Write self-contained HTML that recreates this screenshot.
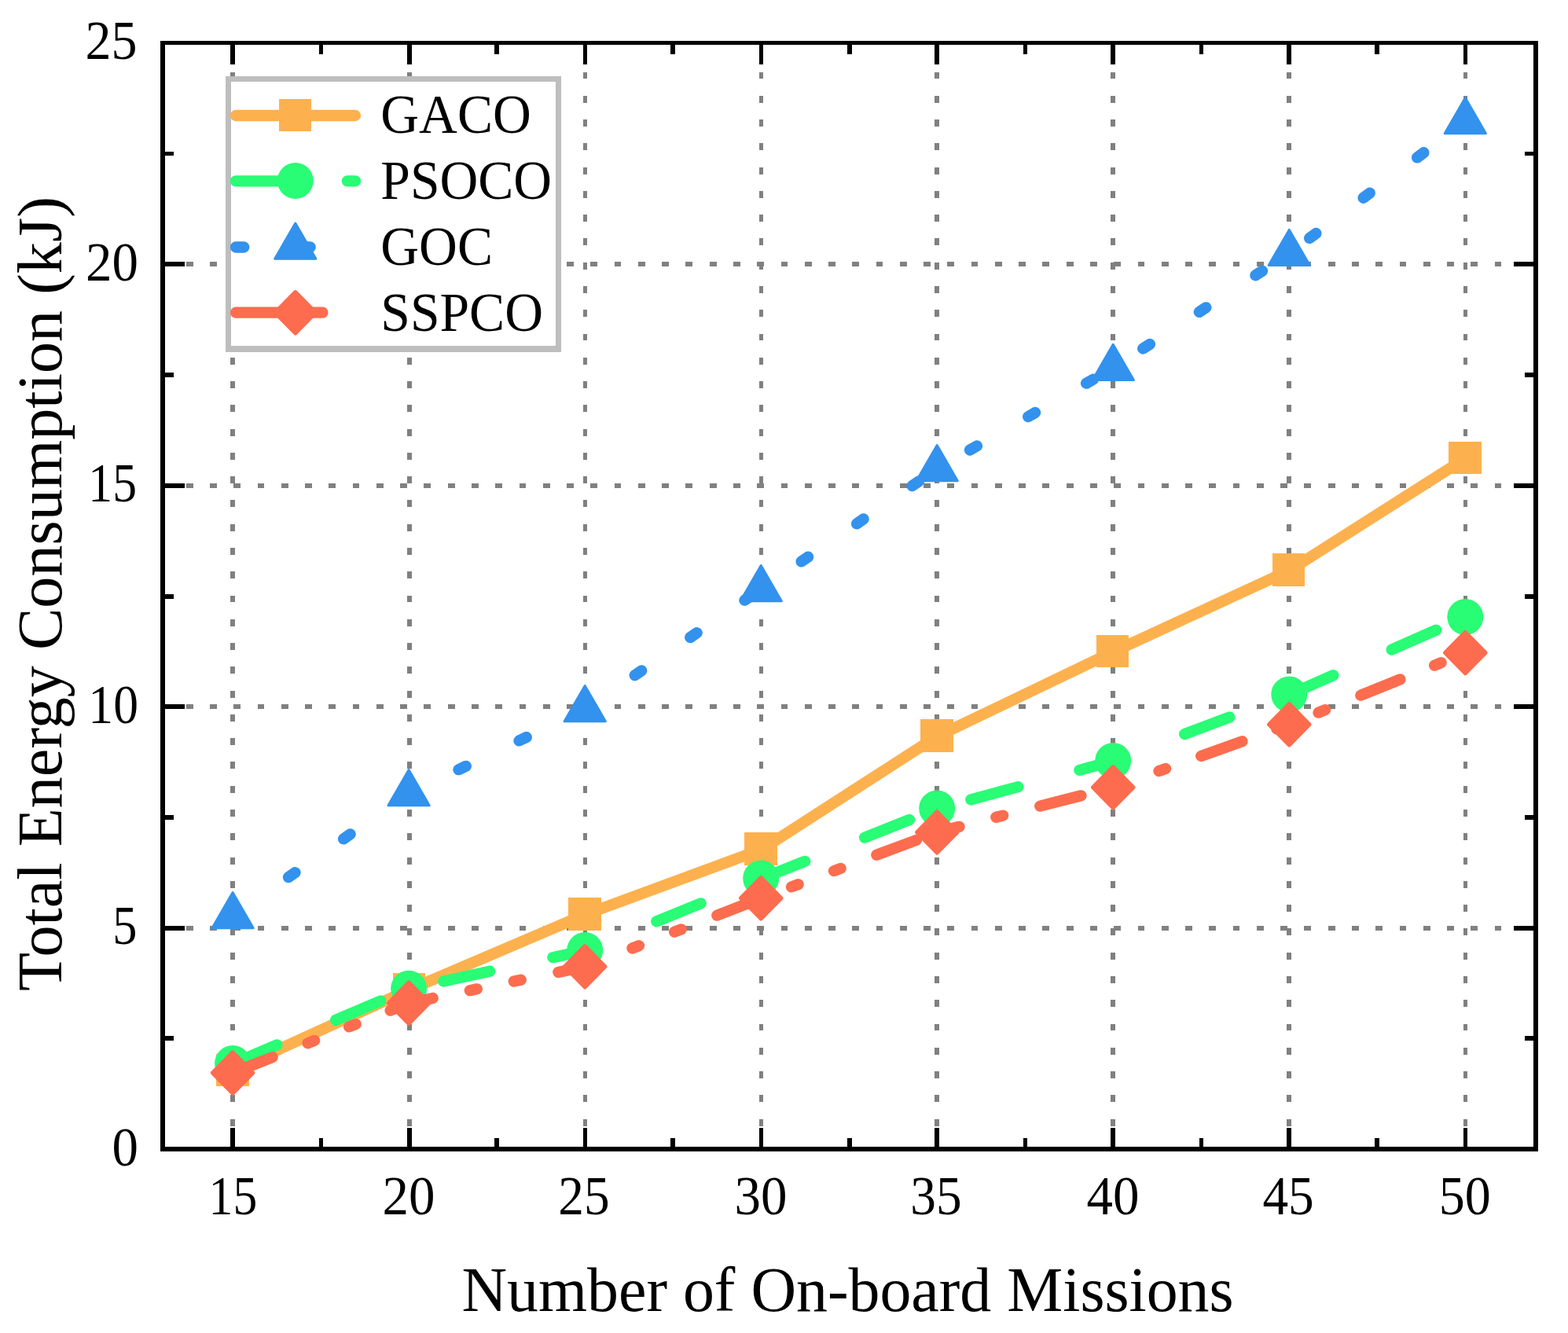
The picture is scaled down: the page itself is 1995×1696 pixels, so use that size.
<!DOCTYPE html>
<html lang="en"><head><meta charset="utf-8"><title>Total Energy Consumption vs Number of On-board Missions</title>
<style>html,body{margin:0;padding:0;background:#fff}body{width:1995px;height:1696px;overflow:hidden}svg{display:block}text{font-family:"Liberation Serif","Times New Roman",Times,serif;fill:#000}</style>
</head><body>
<svg width="1995" height="1696" viewBox="0 0 1995 1696" shape-rendering="crispEdges" role="img" aria-label="Total energy consumption versus number of on-board missions for GACO, PSOCO, GOC and SSPCO">
<rect x="0" y="0" width="1995" height="1696" fill="#fff"/>
<g id="grid" stroke="#808080" fill="none">
<path d="M296 1454v9M296 1424v9M296 1393v9M296 1363v9M296 1333v9M296 1303v8M296 1272v9M296 1242v9M296 1212v9M296 1181v9M296 1151v9M296 1121v9M296 1091v9M296 1060v9M296 1030v9M296 1000v9M296 969v9M296 939v9M296 909v9M296 879v9M296 848v9M296 818v9M296 788v9M296 758v8M296 727v9M296 697v9M296 667v9M296 636v9M296 606v9M296 576v9M296 546v9M296 515v9M296 485v9M296 455v9M296 425v8M296 394v9M296 364v9M296 334v9M296 303v9M296 273v9M296 243v9M296 213v9M296 182v9M296 152v9M296 122v9M296 92v8M296 61v9" stroke-width="6"/>
<path d="M521 1454v9M521 1424v9M521 1393v9M521 1363v9M521 1333v9M521 1303v8M521 1272v9M521 1242v9M521 1212v9M521 1181v9M521 1151v9M521 1121v9M521 1091v9M521 1060v9M521 1030v9M521 1000v9M521 969v9M521 939v9M521 909v9M521 879v9M521 848v9M521 818v9M521 788v9M521 758v8M521 727v9M521 697v9M521 667v9M521 636v9M521 606v9M521 576v9M521 546v9M521 515v9M521 485v9M521 455v9M521 425v8M521 394v9M521 364v9M521 334v9M521 303v9M521 273v9M521 243v9M521 213v9M521 182v9M521 152v9M521 122v9M521 92v8M521 61v9" stroke-width="6"/>
<path d="M744.5 1454v9M744.5 1424v9M744.5 1393v9M744.5 1363v9M744.5 1333v9M744.5 1303v8M744.5 1272v9M744.5 1242v9M744.5 1212v9M744.5 1181v9M744.5 1151v9M744.5 1121v9M744.5 1091v9M744.5 1060v9M744.5 1030v9M744.5 1000v9M744.5 969v9M744.5 939v9M744.5 909v9M744.5 879v9M744.5 848v9M744.5 818v9M744.5 788v9M744.5 758v8M744.5 727v9M744.5 697v9M744.5 667v9M744.5 636v9M744.5 606v9M744.5 576v9M744.5 546v9M744.5 515v9M744.5 485v9M744.5 455v9M744.5 425v8M744.5 394v9M744.5 364v9M744.5 334v9M744.5 303v9M744.5 273v9M744.5 243v9M744.5 213v9M744.5 182v9M744.5 152v9M744.5 122v9M744.5 92v8M744.5 61v9" stroke-width="5"/>
<path d="M968.5 1454v9M968.5 1424v9M968.5 1393v9M968.5 1363v9M968.5 1333v9M968.5 1303v8M968.5 1272v9M968.5 1242v9M968.5 1212v9M968.5 1181v9M968.5 1151v9M968.5 1121v9M968.5 1091v9M968.5 1060v9M968.5 1030v9M968.5 1000v9M968.5 969v9M968.5 939v9M968.5 909v9M968.5 879v9M968.5 848v9M968.5 818v9M968.5 788v9M968.5 758v8M968.5 727v9M968.5 697v9M968.5 667v9M968.5 636v9M968.5 606v9M968.5 576v9M968.5 546v9M968.5 515v9M968.5 485v9M968.5 455v9M968.5 425v8M968.5 394v9M968.5 364v9M968.5 334v9M968.5 303v9M968.5 273v9M968.5 243v9M968.5 213v9M968.5 182v9M968.5 152v9M968.5 122v9M968.5 92v8M968.5 61v9" stroke-width="5"/>
<path d="M1192 1454v9M1192 1424v9M1192 1393v9M1192 1363v9M1192 1333v9M1192 1303v8M1192 1272v9M1192 1242v9M1192 1212v9M1192 1181v9M1192 1151v9M1192 1121v9M1192 1091v9M1192 1060v9M1192 1030v9M1192 1000v9M1192 969v9M1192 939v9M1192 909v9M1192 879v9M1192 848v9M1192 818v9M1192 788v9M1192 758v8M1192 727v9M1192 697v9M1192 667v9M1192 636v9M1192 606v9M1192 576v9M1192 546v9M1192 515v9M1192 485v9M1192 455v9M1192 425v8M1192 394v9M1192 364v9M1192 334v9M1192 303v9M1192 273v9M1192 243v9M1192 213v9M1192 182v9M1192 152v9M1192 122v9M1192 92v8M1192 61v9" stroke-width="6"/>
<path d="M1416 1454v9M1416 1424v9M1416 1393v9M1416 1363v9M1416 1333v9M1416 1303v8M1416 1272v9M1416 1242v9M1416 1212v9M1416 1181v9M1416 1151v9M1416 1121v9M1416 1091v9M1416 1060v9M1416 1030v9M1416 1000v9M1416 969v9M1416 939v9M1416 909v9M1416 879v9M1416 848v9M1416 818v9M1416 788v9M1416 758v8M1416 727v9M1416 697v9M1416 667v9M1416 636v9M1416 606v9M1416 576v9M1416 546v9M1416 515v9M1416 485v9M1416 455v9M1416 425v8M1416 394v9M1416 364v9M1416 334v9M1416 303v9M1416 273v9M1416 243v9M1416 213v9M1416 182v9M1416 152v9M1416 122v9M1416 92v8M1416 61v9" stroke-width="6"/>
<path d="M1640 1454v9M1640 1424v9M1640 1393v9M1640 1363v9M1640 1333v9M1640 1303v8M1640 1272v9M1640 1242v9M1640 1212v9M1640 1181v9M1640 1151v9M1640 1121v9M1640 1091v9M1640 1060v9M1640 1030v9M1640 1000v9M1640 969v9M1640 939v9M1640 909v9M1640 879v9M1640 848v9M1640 818v9M1640 788v9M1640 758v8M1640 727v9M1640 697v9M1640 667v9M1640 636v9M1640 606v9M1640 576v9M1640 546v9M1640 515v9M1640 485v9M1640 455v9M1640 425v8M1640 394v9M1640 364v9M1640 334v9M1640 303v9M1640 273v9M1640 243v9M1640 213v9M1640 182v9M1640 152v9M1640 122v9M1640 92v8M1640 61v9" stroke-width="6"/>
<path d="M1864.5 1454v9M1864.5 1424v9M1864.5 1393v9M1864.5 1363v9M1864.5 1333v9M1864.5 1303v8M1864.5 1272v9M1864.5 1242v9M1864.5 1212v9M1864.5 1181v9M1864.5 1151v9M1864.5 1121v9M1864.5 1091v9M1864.5 1060v9M1864.5 1030v9M1864.5 1000v9M1864.5 969v9M1864.5 939v9M1864.5 909v9M1864.5 879v9M1864.5 848v9M1864.5 818v9M1864.5 788v9M1864.5 758v8M1864.5 727v9M1864.5 697v9M1864.5 667v9M1864.5 636v9M1864.5 606v9M1864.5 576v9M1864.5 546v9M1864.5 515v9M1864.5 485v9M1864.5 455v9M1864.5 425v8M1864.5 394v9M1864.5 364v9M1864.5 334v9M1864.5 303v9M1864.5 273v9M1864.5 243v9M1864.5 213v9M1864.5 182v9M1864.5 152v9M1864.5 122v9M1864.5 92v8M1864.5 61v9" stroke-width="5"/>
<path d="M207 1181h8M237 1181h9M267 1181h9M297 1181h9M328 1181h8M358 1181h9M388 1181h9M418 1181h9M449 1181h8M479 1181h9M509 1181h9M539 1181h9M570 1181h9M600 1181h9M630 1181h9M661 1181h8M691 1181h9M721 1181h9M751 1181h9M782 1181h8M812 1181h9M842 1181h9M872 1181h9M903 1181h9M933 1181h9M963 1181h9M994 1181h8M1024 1181h9M1054 1181h9M1084 1181h9M1115 1181h8M1145 1181h9M1175 1181h9M1205 1181h9M1236 1181h8M1266 1181h9M1296 1181h9M1326 1181h9M1357 1181h9M1387 1181h9M1417 1181h9M1448 1181h8M1478 1181h9M1508 1181h9M1538 1181h9M1569 1181h8M1599 1181h9M1629 1181h9M1659 1181h9M1690 1181h9M1720 1181h9M1750 1181h9M1781 1181h8M1811 1181h9M1841 1181h9M1871 1181h9M1902 1181h8M1932 1181h9" stroke-width="6"/>
<path d="M207 899h8M237 899h9M267 899h9M297 899h9M328 899h8M358 899h9M388 899h9M418 899h9M449 899h8M479 899h9M509 899h9M539 899h9M570 899h9M600 899h9M630 899h9M661 899h8M691 899h9M721 899h9M751 899h9M782 899h8M812 899h9M842 899h9M872 899h9M903 899h9M933 899h9M963 899h9M994 899h8M1024 899h9M1054 899h9M1084 899h9M1115 899h8M1145 899h9M1175 899h9M1205 899h9M1236 899h8M1266 899h9M1296 899h9M1326 899h9M1357 899h9M1387 899h9M1417 899h9M1448 899h8M1478 899h9M1508 899h9M1538 899h9M1569 899h8M1599 899h9M1629 899h9M1659 899h9M1690 899h9M1720 899h9M1750 899h9M1781 899h8M1811 899h9M1841 899h9M1871 899h9M1902 899h8M1932 899h9" stroke-width="6"/>
<path d="M207 618h8M237 618h9M267 618h9M297 618h9M328 618h8M358 618h9M388 618h9M418 618h9M449 618h8M479 618h9M509 618h9M539 618h9M570 618h9M600 618h9M630 618h9M661 618h8M691 618h9M721 618h9M751 618h9M782 618h8M812 618h9M842 618h9M872 618h9M903 618h9M933 618h9M963 618h9M994 618h8M1024 618h9M1054 618h9M1084 618h9M1115 618h8M1145 618h9M1175 618h9M1205 618h9M1236 618h8M1266 618h9M1296 618h9M1326 618h9M1357 618h9M1387 618h9M1417 618h9M1448 618h8M1478 618h9M1508 618h9M1538 618h9M1569 618h8M1599 618h9M1629 618h9M1659 618h9M1690 618h9M1720 618h9M1750 618h9M1781 618h8M1811 618h9M1841 618h9M1871 618h9M1902 618h8M1932 618h9" stroke-width="6"/>
<path d="M207 336h8M237 336h9M267 336h9M297 336h9M328 336h8M358 336h9M388 336h9M418 336h9M449 336h8M479 336h9M509 336h9M539 336h9M570 336h9M600 336h9M630 336h9M661 336h8M691 336h9M721 336h9M751 336h9M782 336h8M812 336h9M842 336h9M872 336h9M903 336h9M933 336h9M963 336h9M994 336h8M1024 336h9M1054 336h9M1084 336h9M1115 336h8M1145 336h9M1175 336h9M1205 336h9M1236 336h8M1266 336h9M1296 336h9M1326 336h9M1357 336h9M1387 336h9M1417 336h9M1448 336h8M1478 336h9M1508 336h9M1538 336h9M1569 336h8M1599 336h9M1629 336h9M1659 336h9M1690 336h9M1720 336h9M1750 336h9M1781 336h8M1811 336h9M1841 336h9M1871 336h9M1902 336h8M1932 336h9" stroke-width="6"/>
</g>
<g id="frame" fill="#000">
<rect x="204" y="52" width="1753" height="5"/>
<rect x="204" y="1459" width="1753" height="6"/>
<rect x="204" y="52" width="6" height="1413"/>
<rect x="1951" y="52" width="6" height="1413"/>
<rect x="293" y="57" width="6" height="25"/>
<rect x="293" y="1435" width="6" height="25"/>
<rect x="406" y="57" width="5" height="12"/>
<rect x="406" y="1448" width="5" height="12"/>
<rect x="518" y="57" width="6" height="25"/>
<rect x="518" y="1435" width="6" height="25"/>
<rect x="629" y="57" width="6" height="12"/>
<rect x="629" y="1448" width="6" height="12"/>
<rect x="742" y="57" width="5" height="25"/>
<rect x="742" y="1435" width="5" height="25"/>
<rect x="853" y="57" width="6" height="12"/>
<rect x="853" y="1448" width="6" height="12"/>
<rect x="966" y="57" width="5" height="25"/>
<rect x="966" y="1435" width="5" height="25"/>
<rect x="1078" y="57" width="6" height="12"/>
<rect x="1078" y="1448" width="6" height="12"/>
<rect x="1189" y="57" width="6" height="25"/>
<rect x="1189" y="1435" width="6" height="25"/>
<rect x="1302" y="57" width="5" height="12"/>
<rect x="1302" y="1448" width="5" height="12"/>
<rect x="1413" y="57" width="6" height="25"/>
<rect x="1413" y="1435" width="6" height="25"/>
<rect x="1526" y="57" width="5" height="12"/>
<rect x="1526" y="1448" width="5" height="12"/>
<rect x="1637" y="57" width="6" height="25"/>
<rect x="1637" y="1435" width="6" height="25"/>
<rect x="1749" y="57" width="6" height="12"/>
<rect x="1749" y="1448" width="6" height="12"/>
<rect x="1862" y="57" width="5" height="25"/>
<rect x="1862" y="1435" width="5" height="25"/>
<rect x="210" y="193" width="11" height="5"/>
<rect x="1940" y="193" width="11" height="5"/>
<rect x="210" y="333" width="25" height="6"/>
<rect x="1926" y="333" width="25" height="6"/>
<rect x="210" y="474" width="11" height="6"/>
<rect x="1940" y="474" width="11" height="6"/>
<rect x="210" y="615" width="25" height="6"/>
<rect x="1926" y="615" width="25" height="6"/>
<rect x="210" y="756" width="11" height="6"/>
<rect x="1940" y="756" width="11" height="6"/>
<rect x="210" y="896" width="25" height="6"/>
<rect x="1926" y="896" width="25" height="6"/>
<rect x="210" y="1037" width="11" height="6"/>
<rect x="1940" y="1037" width="11" height="6"/>
<rect x="210" y="1178" width="25" height="6"/>
<rect x="1926" y="1178" width="25" height="6"/>
<rect x="210" y="1318" width="11" height="6"/>
<rect x="1940" y="1318" width="11" height="6"/>
</g>
<g id="series-gaco">
<polyline points="296.4,1361.8 520.4,1259.3 744.5,1163.7 968.5,1081.0 1192.5,936.8 1416.5,829.2 1640.6,725.7 1864.6,583.2" fill="none" stroke="#FDB14E" stroke-width="14.3" stroke-linecap="round" stroke-linejoin="round" shape-rendering="geometricPrecision"/>
<rect x="275" y="1341" width="42" height="41" fill="#FDB14E"/>
<rect x="500" y="1238" width="41" height="42" fill="#FDB14E"/>
<rect x="723" y="1142" width="42" height="42" fill="#FDB14E"/>
<rect x="947" y="1059" width="42" height="42" fill="#FDB14E"/>
<rect x="1171" y="915" width="42" height="42" fill="#FDB14E"/>
<rect x="1395" y="808" width="41" height="41" fill="#FDB14E"/>
<rect x="1619" y="704" width="41" height="42" fill="#FDB14E"/>
<rect x="1843" y="562" width="42" height="41" fill="#FDB14E"/>
</g>
<g id="series-psoco">
<path d="M296.4 1353.3 L352.5 1329.4 M427.1 1297.8 L484.2 1273.5 M564.3 1248.5 L623.2 1235.7 M703.4 1218.2 L744.5 1209.3 M744.5 1209.3 L758.8 1203.4 M835.2 1172.3 L891.6 1149.3 M967.1 1118.5 L968.5 1117.9 M968.5 1117.9 L1024.2 1095.8 M1100.1 1065.6 L1157.1 1043.0 M1235.3 1017.3 L1295.3 1001.1 M1373.4 979.9 L1416.5 968.2 M1416.5 968.2 L1430.6 962.9 M1507.2 934.0 L1564.3 912.5 M1640.5 883.7 L1640.6 883.7 M1640.6 883.7 L1696.4 859.1 M1770.7 826.5 L1827.2 801.6" fill="none" stroke="#28FD75" stroke-width="14.3" stroke-linecap="round" stroke-linejoin="round" shape-rendering="geometricPrecision"/>
<circle cx="296.1" cy="1353.0" r="23" fill="#28FD75" shape-rendering="geometricPrecision"/>
<circle cx="520.1" cy="1257.8" r="23" fill="#28FD75" shape-rendering="geometricPrecision"/>
<circle cx="744.2" cy="1209.0" r="23" fill="#28FD75" shape-rendering="geometricPrecision"/>
<circle cx="968.2" cy="1117.6" r="23" fill="#28FD75" shape-rendering="geometricPrecision"/>
<circle cx="1192.2" cy="1028.6" r="23" fill="#28FD75" shape-rendering="geometricPrecision"/>
<circle cx="1416.2" cy="967.9" r="23" fill="#28FD75" shape-rendering="geometricPrecision"/>
<circle cx="1640.3" cy="883.4" r="23" fill="#28FD75" shape-rendering="geometricPrecision"/>
<circle cx="1864.3" cy="784.9" r="23" fill="#28FD75" shape-rendering="geometricPrecision"/>
</g>
<g id="series-goc">
<path d="M367.0 1116.1 L375.5 1110.2 M437.1 1067.3 L445.6 1061.4 M507.2 1018.5 L515.6 1012.6 M583.5 979.2 L592.8 974.8 M660.5 942.4 L669.8 938.0 M737.6 905.6 L744.5 902.3 M807.7 859.1 L816.2 853.3 M878.2 811.0 L886.7 805.2 M947.5 763.6 L956.0 757.8 M1019.6 714.4 L1028.1 708.6 M1090.1 666.3 L1098.6 660.4 M1160.6 618.1 L1169.1 612.3 M1234.0 572.5 L1243.0 567.4 M1308.2 530.1 L1317.1 525.0 M1382.1 487.7 L1391.0 482.6 M1454.2 443.5 L1462.9 437.9 M1525.8 396.9 L1534.4 391.3 M1597.4 350.3 L1606.0 344.7 M1666.1 303.0 L1674.4 296.9 M1734.6 251.8 L1742.8 245.6 M1803.1 200.4 L1811.4 194.2" fill="none" stroke="#3292EE" stroke-width="14.3" stroke-linecap="round" stroke-linejoin="round" shape-rendering="geometricPrecision"/>
<polygon points="296.1,1135.5 322.2,1180.7 270.0,1180.7" fill="#3292EE" stroke="#3292EE" stroke-width="3" stroke-linejoin="round" shape-rendering="geometricPrecision"/>
<polygon points="520.1,979.5 546.2,1024.7 494.0,1024.7" fill="#3292EE" stroke="#3292EE" stroke-width="3" stroke-linejoin="round" shape-rendering="geometricPrecision"/>
<polygon points="744.2,872.5 770.3,917.7 718.1,917.7" fill="#3292EE" stroke="#3292EE" stroke-width="3" stroke-linejoin="round" shape-rendering="geometricPrecision"/>
<polygon points="968.2,719.5 994.3,764.7 942.1,764.7" fill="#3292EE" stroke="#3292EE" stroke-width="3" stroke-linejoin="round" shape-rendering="geometricPrecision"/>
<polygon points="1192.2,566.5 1218.3,611.7 1166.1,611.7" fill="#3292EE" stroke="#3292EE" stroke-width="3" stroke-linejoin="round" shape-rendering="geometricPrecision"/>
<polygon points="1416.2,438.2 1442.4,483.4 1390.1,483.4" fill="#3292EE" stroke="#3292EE" stroke-width="3" stroke-linejoin="round" shape-rendering="geometricPrecision"/>
<polygon points="1640.3,292.4 1666.4,337.6 1614.2,337.6" fill="#3292EE" stroke="#3292EE" stroke-width="3" stroke-linejoin="round" shape-rendering="geometricPrecision"/>
<polygon points="1864.3,124.5 1890.4,169.7 1838.2,169.7" fill="#3292EE" stroke="#3292EE" stroke-width="3" stroke-linejoin="round" shape-rendering="geometricPrecision"/>
</g>
<g id="series-sspco">
<path d="M296.4 1365.0 L346.6 1345.1 M391.5 1327.3 L400.1 1323.9 M444.1 1306.4 L452.7 1303.1 M496.6 1285.6 L520.4 1276.2 M520.4 1276.2 L550.7 1269.9 M597.8 1260.2 L606.8 1258.3 M653.8 1248.6 L662.8 1246.7 M710.3 1236.9 L744.5 1229.8 M744.5 1229.8 L757.5 1224.7 M804.4 1206.5 L813.0 1203.2 M858.1 1185.7 L866.7 1182.3 M912.3 1164.6 L962.6 1145.1 M1007.0 1128.4 L1015.6 1125.2 M1061.0 1108.1 L1069.6 1104.9 M1115.3 1087.8 L1165.9 1068.9 M1211.6 1054.0 L1220.5 1051.8 M1267.3 1039.8 L1276.2 1037.6 M1323.2 1025.6 L1375.5 1012.3 M1421.4 1000.1 L1430.0 997.0 M1474.5 981.1 L1483.1 978.0 M1528.2 961.9 L1580.5 943.2 M1624.4 927.5 L1633.0 924.4 M1677.5 906.7 L1686.1 903.2 M1731.3 884.7 L1781.4 864.4 M1825.1 846.6 L1833.6 843.1" fill="none" stroke="#FD6C4E" stroke-width="14.3" stroke-linecap="round" stroke-linejoin="round" shape-rendering="geometricPrecision"/>
<polygon points="296.1,1338.8 321.9,1365.0 296.1,1391.2 270.3,1365.0" fill="#FD6C4E" stroke="#FD6C4E" stroke-width="5" stroke-linejoin="round" shape-rendering="geometricPrecision"/>
<polygon points="520.1,1250.0 545.9,1276.2 520.1,1302.4 494.4,1276.2" fill="#FD6C4E" stroke="#FD6C4E" stroke-width="5" stroke-linejoin="round" shape-rendering="geometricPrecision"/>
<polygon points="744.2,1203.6 769.9,1229.8 744.2,1256.0 718.4,1229.8" fill="#FD6C4E" stroke="#FD6C4E" stroke-width="5" stroke-linejoin="round" shape-rendering="geometricPrecision"/>
<polygon points="968.2,1116.6 994.0,1142.8 968.2,1169.0 942.4,1142.8" fill="#FD6C4E" stroke="#FD6C4E" stroke-width="5" stroke-linejoin="round" shape-rendering="geometricPrecision"/>
<polygon points="1192.2,1032.7 1218.0,1058.9 1192.2,1085.1 1166.5,1058.9" fill="#FD6C4E" stroke="#FD6C4E" stroke-width="5" stroke-linejoin="round" shape-rendering="geometricPrecision"/>
<polygon points="1416.2,975.6 1442.0,1001.8 1416.2,1028.0 1390.5,1001.8" fill="#FD6C4E" stroke="#FD6C4E" stroke-width="5" stroke-linejoin="round" shape-rendering="geometricPrecision"/>
<polygon points="1640.3,895.5 1666.0,921.7 1640.3,947.9 1614.5,921.7" fill="#FD6C4E" stroke="#FD6C4E" stroke-width="5" stroke-linejoin="round" shape-rendering="geometricPrecision"/>
<polygon points="1864.3,804.3 1890.1,830.5 1864.3,856.7 1838.5,830.5" fill="#FD6C4E" stroke="#FD6C4E" stroke-width="5" stroke-linejoin="round" shape-rendering="geometricPrecision"/>
</g>
<g id="legend">
<rect x="287" y="97" width="427" height="351" fill="#BEBEBE"/>
<rect x="294" y="104" width="413" height="336" fill="#fff"/>
<line x1="300" y1="147" x2="452" y2="147" stroke="#FDB14E" stroke-width="14.3" stroke-linecap="round" shape-rendering="geometricPrecision"/>
<rect x="355" y="126" width="41" height="41" fill="#FDB14E"/>
<text transform="translate(484.3 168.8) scale(1 1.035)" font-size="67.6">GACO</text>
<line x1="300" y1="230.4" x2="452" y2="230.4" stroke="#28FD75" stroke-width="14.3" stroke-linecap="round" shape-rendering="geometricPrecision" stroke-dasharray="62 80"/>
<circle cx="375.8" cy="230.0" r="23" fill="#28FD75" shape-rendering="geometricPrecision"/>
<text transform="translate(484.3 252.9) scale(1 1.035)" font-size="67.6">PSOCO</text>
<line x1="300" y1="314.5" x2="452" y2="314.5" stroke="#3292EE" stroke-width="14.3" stroke-linecap="round" shape-rendering="geometricPrecision" stroke-dasharray="10.3 74.1"/>
<polygon points="375.8,284.0 401.9,329.2 349.7,329.2" fill="#3292EE" stroke="#3292EE" stroke-width="3" stroke-linejoin="round" shape-rendering="geometricPrecision"/>
<text transform="translate(484.3 337.1) scale(1 1.035)" font-size="67.6">GOC</text>
<line x1="300" y1="397.7" x2="452" y2="397.7" stroke="#FD6C4E" stroke-width="14.3" stroke-linecap="round" shape-rendering="geometricPrecision" stroke-dasharray="54 43 13.5 100"/>
<polygon points="375.8,371.6 401.6,397.8 375.8,424.0 350.0,397.8" fill="#FD6C4E" stroke="#FD6C4E" stroke-width="5" stroke-linejoin="round" shape-rendering="geometricPrecision"/>
<text transform="translate(484.3 420.8) scale(1 1.035)" font-size="67.6">SSPCO</text>
</g>
<g id="ticklabels">
<text transform="translate(296.4 1544.5) scale(0.92 1.035)" font-size="67" text-anchor="middle">15</text>
<text transform="translate(519.93 1544.5) scale(1 1.035)" font-size="67" text-anchor="middle">20</text>
<text transform="translate(742.96 1544.5) scale(0.975 1.035)" font-size="67" text-anchor="middle">25</text>
<text transform="translate(967.99 1544.5) scale(1 1.035)" font-size="67" text-anchor="middle">30</text>
<text transform="translate(1191.02 1544.5) scale(0.975 1.035)" font-size="67" text-anchor="middle">35</text>
<text transform="translate(1416.05 1544.5) scale(1 1.035)" font-size="67" text-anchor="middle">40</text>
<text transform="translate(1639.08 1544.5) scale(0.975 1.035)" font-size="67" text-anchor="middle">45</text>
<text transform="translate(1863.81 1544.5) scale(0.985 1.035)" font-size="67" text-anchor="middle">50</text>
<text transform="translate(176 1482.7) scale(1 1.035)" font-size="67" text-anchor="end">0</text>
<text transform="translate(174.4 1201.2) scale(0.93 1.035)" font-size="67" text-anchor="end">5</text>
<text transform="translate(176 919.7) scale(0.95 1.035)" font-size="67" text-anchor="end">10</text>
<text transform="translate(174 638.2) scale(0.92 1.035)" font-size="67" text-anchor="end">15</text>
<text transform="translate(176 356.7) scale(1 1.035)" font-size="67" text-anchor="end">20</text>
<text transform="translate(174.4 75.2) scale(0.985 1.035)" font-size="67" text-anchor="end">25</text>
</g>
<g id="titles">
<text transform="translate(587.4 1668) scale(0.998 1)" font-size="80">Number of On-board Missions</text>
<text transform="translate(77.5 1261) rotate(-90) scale(1.0026 1)" font-size="80">Total Energy Consumption (kJ)</text>
</g>
</svg></body></html>
